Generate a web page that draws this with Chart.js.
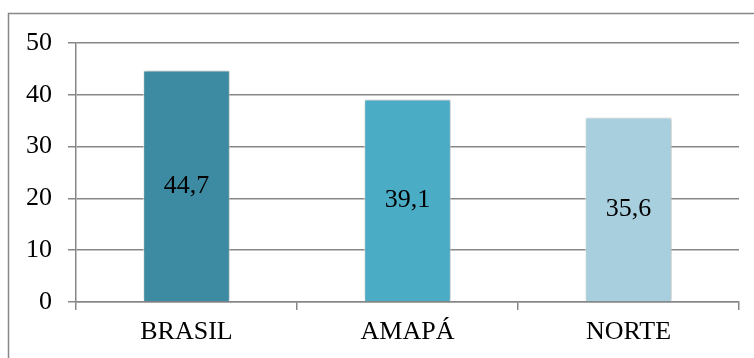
<!DOCTYPE html>
<html>
<head>
<meta charset="utf-8">
<script src="https://cdn.jsdelivr.net/npm/chart.js@4/dist/chart.umd.min.js"></script>
<style>
  html, body { margin: 0; padding: 0; background: #ffffff; }
  #wrap { position: relative; width: 754px; height: 358px; }
</style>
</head>
<body>
<div id="wrap"><canvas id="c" width="754" height="358"></canvas></div>
<script>
const categories = ["BRASIL", "AMAPÁ", "NORTE"];
const values = [44.7, 39.1, 35.6];
const valueLabels = ["44,7", "39,1", "35,6"];
const barColors = ["#3c8ba2", "#4bacc6", "#a8cfdd"];
const yTicks = [0, 10, 20, 30, 40, 50];

const FONT = "'Liberation Serif', 'Times New Roman', serif";
const GRAY = "#878787";

const framePlugin = {
  id: "frame",
  beforeDraw(chart) {
    const ctx = chart.ctx;
    ctx.save();
    ctx.fillStyle = "#ffffff";
    ctx.fillRect(0, 0, chart.width, chart.height);
    ctx.strokeStyle = GRAY;
    ctx.lineWidth = 1.5;
    ctx.strokeRect(8.5, 13.5, 900, 500);
    ctx.restore();
  }
};

const shadowPlugin = {
  id: "barShadow",
  beforeDatasetDraw(chart) {
    const ctx = chart.ctx;
    ctx.save();
    ctx.shadowColor = "rgba(0,0,0,0.28)";
    ctx.shadowBlur = 4;
    ctx.shadowOffsetX = 1;
    ctx.shadowOffsetY = 0;
  },
  afterDatasetDraw(chart) {
    chart.ctx.restore();
  }
};

const labelPlugin = {
  id: "valueLabels",
  afterDatasetsDraw(chart) {
    const ctx = chart.ctx;
    const meta = chart.getDatasetMeta(0);
    ctx.save();
    ctx.font = "26px " + FONT;
    ctx.fillStyle = "#000000";
    ctx.textAlign = "center";
    ctx.textBaseline = "middle";
    meta.data.forEach((bar, i) => {
      const y = (bar.y + bar.base) / 2;
      ctx.fillText(valueLabels[i], bar.x, y);
    });
    ctx.restore();
  }
};

new Chart(document.getElementById("c"), {
  type: "bar",
  data: {
    labels: categories,
    datasets: [{
      data: values,
      backgroundColor: barColors,
      borderColor: "rgba(255,255,255,0.85)",
      borderWidth: 1,
      barPercentage: 0.392,
      categoryPercentage: 1.0
    }]
  },
  options: {
    responsive: false,
    animation: false,
    devicePixelRatio: 1,
    layout: { padding: { top: 43, right: 15, left: 0, bottom: 0 } },
    plugins: {
      legend: { display: false },
      tooltip: { enabled: false }
    },
    scales: {
      x: {
        grid: {
          display: true,
          drawOnChartArea: false,
          drawTicks: true,
          tickLength: 8,
          color: GRAY,
          lineWidth: 1.5,
          offset: true
        },
        border: { display: true, color: GRAY, width: 1.5 },
        ticks: {
          color: "#000000",
          font: { family: FONT, size: 26 },
          padding: 7,
          maxRotation: 0
        },
        afterFit(scale) { scale.height = 56; }
      },
      y: {
        min: 0,
        max: 50,
        afterBuildTicks(scale) { scale.ticks = yTicks.map(v => ({ value: v })); },
        grid: {
          color: GRAY,
          lineWidth: 1.5,
          tickLength: 8
        },
        border: { display: true, color: GRAY, width: 1.5 },
        ticks: {
          color: "#000000",
          font: { family: FONT, size: 26 },
          padding: 16
        },
        afterFit(scale) { scale.width = 76; }
      }
    }
  },
  plugins: [framePlugin, shadowPlugin, labelPlugin]
});
</script>
</body>
</html>
